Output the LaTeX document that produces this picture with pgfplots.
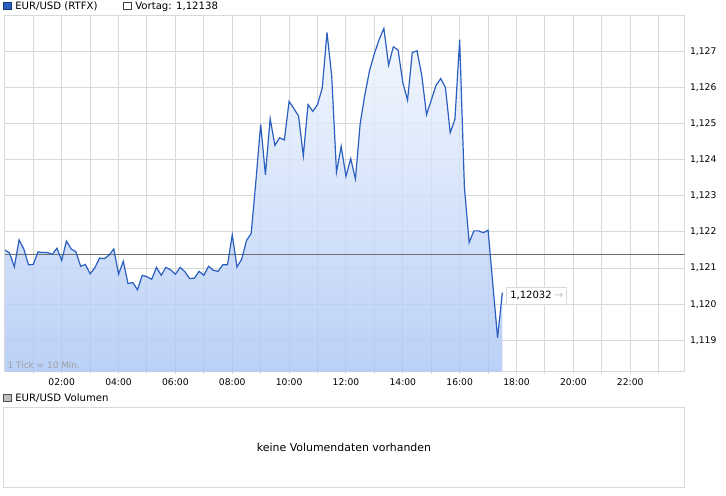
\documentclass[border=0pt]{standalone}
\usepackage{fontspec}
\setmainfont{DejaVu Sans}
\usepackage{pgfplots}
\usepackage{pgfplotstable}
\pgfplotsset{compat=1.18}

\definecolor{lineblue}{RGB}{42,95,192}
\definecolor{gridgray}{RGB}{217,217,217}
\definecolor{refgray}{RGB}{110,110,110}
\definecolor{fillTop}{RGB}{242,247,254}
\definecolor{fillBot}{RGB}{170,197,245}
\definecolor{notegray}{RGB}{160,160,160}
\definecolor{arrowgray}{RGB}{190,190,190}

% EUR/USD, one value every 10 minutes (t in minutes after 00:00)
\pgfplotstableread{
t v
0 1.12150
10 1.12142
20 1.12103
30 1.12178
40 1.12153
50 1.12109
60 1.12110
70 1.12145
80 1.12143
90 1.12143
100 1.12138
110 1.12155
120 1.12121
130 1.12175
140 1.12153
150 1.12145
160 1.12105
170 1.12110
180 1.12084
190 1.12101
200 1.12128
210 1.12126
220 1.12136
230 1.12153
240 1.12083
250 1.12119
260 1.12057
270 1.12060
280 1.12040
290 1.12080
300 1.12076
310 1.12069
320 1.12102
330 1.12080
340 1.12102
350 1.12095
360 1.12083
370 1.12102
380 1.12090
390 1.12071
400 1.12072
410 1.12091
420 1.12080
430 1.12105
440 1.12094
450 1.12091
460 1.12109
470 1.12109
480 1.12192
490 1.12103
500 1.12125
510 1.12176
520 1.12196
530 1.12342
540 1.12498
550 1.12358
560 1.12514
570 1.12440
580 1.12461
590 1.12455
600 1.12562
610 1.12542
620 1.12521
630 1.12411
640 1.12553
650 1.12534
660 1.12553
670 1.12599
680 1.12753
690 1.12630
700 1.12366
710 1.12437
720 1.12354
730 1.12403
740 1.12347
750 1.12500
760 1.12581
770 1.12648
780 1.12694
790 1.12733
800 1.12764
810 1.12662
820 1.12713
830 1.12704
840 1.12614
850 1.12565
860 1.12697
870 1.12702
880 1.12634
890 1.12525
900 1.12565
910 1.12606
920 1.12625
930 1.12600
940 1.12475
950 1.12512
960 1.12733
970 1.12324
980 1.12171
990 1.12203
1000 1.12203
1010 1.12198
1020 1.12205
1030 1.12055
1040 1.11907
1050 1.12032
}\eurusd

\begin{document}
\begin{tikzpicture}[x=0.75pt,y=0.75pt]
% white page, 726 x 496 px
\fill[white] (0,0) rectangle (726,496);

% top legend
\filldraw[fill=lineblue, draw=lineblue!60!black, line width=0.75pt] (3.5,486) rectangle (11.5,493.3);
\node[anchor=base west, inner sep=0pt, font=\fontsize{7.6pt}{9pt}\selectfont] at (15,486) {EUR/USD (RTFX)};
\filldraw[fill=white, draw=black!75, line width=0.75pt] (123.7,486) rectangle (131.3,493.3);
\node[anchor=base west, inner sep=0pt, font=\fontsize{7.6pt}{9pt}\selectfont] at (135,486) {Vortag: 1,12138};

\begin{axis}[
    at={(3.63pt,93.23pt)}, anchor=south west,
    scale only axis, width=509.9pt, height=267.5pt,
    xmin=0, xmax=1435, ymin=1.11813, ymax=1.12801,
    axis line style={draw=gridgray, line width=0.75pt},
    xtick={120,240,360,480,600,720,840,960,1080,1200,1320},
    xticklabels={02:00,04:00,06:00,08:00,10:00,12:00,14:00,16:00,18:00,20:00,22:00},
    minor xtick={60,180,300,420,540,660,780,900,1020,1140,1260,1380},
    ytick={1.119,1.120,1.121,1.122,1.123,1.124,1.125,1.126,1.127},
    yticklabels={{1,119},{1,120},{1,121},{1,122},{1,123},{1,124},{1,125},{1,126},{1,127}},
    xtick pos=left, ytick pos=right, yticklabel pos=right,
    tick align=outside,
    major tick length=1.5pt, minor tick length=1.5pt,
    xtick style={draw=gridgray, line width=0.75pt},
    ytick style={draw=none},
    grid=both,
    major grid style={draw=gridgray, line width=0.75pt},
    minor grid style={draw=gridgray, line width=0.75pt},
    tick label style={font=\fontsize{6.9pt}{8pt}\selectfont, text=black},
    yticklabel style={anchor=west, xshift=-1pt},
]
% shaded area under the curve, closed along the bottom of the axis
\addplot[draw=none, top color=fillTop, bottom color=fillBot, fill opacity=0.8, forget plot]
    table[x=t,y=v]{\eurusd} -- (axis cs:1050,1.11813) -- (axis cs:0,1.11813) -- cycle;
\addplot[refgray, line width=0.75pt] coordinates {(0,1.12138) (1435,1.12138)};
\addplot[lineblue, line width=0.9pt] table[x=t,y=v]{\eurusd};
\node[anchor=south west, inner sep=0pt, text=notegray, font=\fontsize{6.7pt}{8pt}\selectfont,
      xshift=1.9pt, yshift=2pt] at (rel axis cs:0,0) {1 Tick = 10 Min.};
\node[anchor=west, draw=gridgray, fill=white, line width=0.75pt, inner xsep=2.6pt, inner ysep=3pt,
      font=\fontsize{7.5pt}{9pt}\selectfont, xshift=3pt, yshift=-2.4pt]
      at (axis cs:1050,1.12032) {1,12032 \textcolor{arrowgray}{→}};
\end{axis}

% volume panel
\filldraw[fill=black!25, draw=black!70, line width=0.75pt] (3.5,94.3) rectangle (11.5,101.6);
\node[anchor=base west, inner sep=0pt, font=\fontsize{7.6pt}{9pt}\selectfont] at (15,94.3) {EUR/USD Volumen};
\draw[gridgray, line width=0.75pt] (3.5,8.7) rectangle (684.7,88.7);
\node[font=\fontsize{8.2pt}{10pt}\selectfont] at (344,48.7) {keine Volumendaten vorhanden};
\end{tikzpicture}
\end{document}
